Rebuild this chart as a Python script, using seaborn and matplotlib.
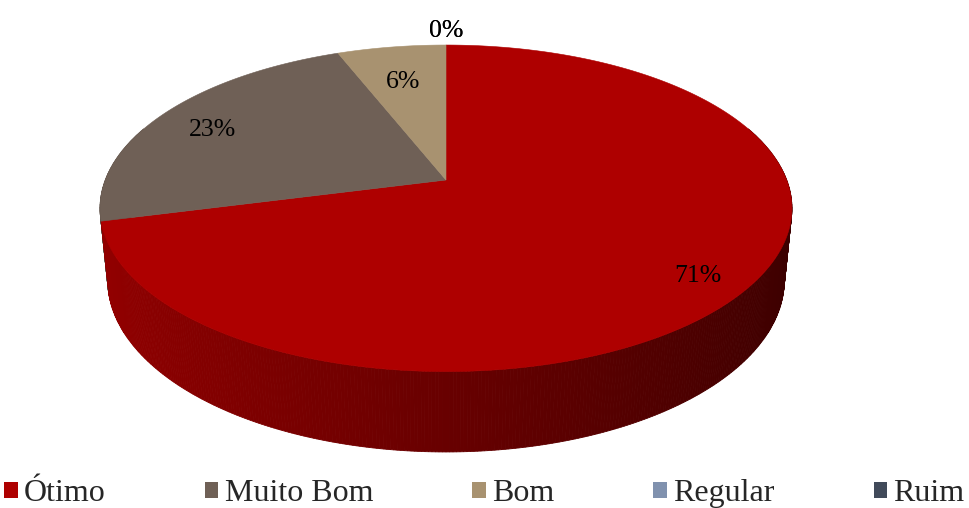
import numpy as np
import matplotlib

matplotlib.use("Agg", force=True)
import matplotlib.pyplot as plt
import seaborn as sns
from matplotlib.patches import Polygon, Rectangle

categories = ["Ótimo", "Muito Bom", "Bom", "Regular", "Ruim"]
values = [71, 23, 6, 0, 0]
labels = ["71%", "23%", "6%", "0%", "0%"]
colors = ["#AE0000", "#6F6056", "#A89270", "#8091AE", "#414A5A"]
label_r = [0.85, 0.82, 0.75, 1.17, 1.17]

# view of the 3D pie (elevation, perspective distance, thickness, pixel scale)
ELEV = np.deg2rad(27.7)
DIST = 5.11
THICK = 0.24
SCALE = 340.7
CX, CY = 446, 180
W, H = 969, 508


def project(x, y, z):
    ce, se = np.cos(ELEV), np.sin(ELEV)
    yp = y * se + z * ce
    d = y * ce - z * se
    k = DIST / (DIST + d)
    return x * k, yp * k


def rim(t, z=0.0, r=1.0):
    return project(r * np.cos(t), r * np.sin(t), z)


def slice_of(t_deg, bounds):
    frac = ((90 - t_deg) % 360) / 360
    for i, (a, b) in enumerate(bounds):
        if a <= frac < b:
            return i
    return 0


def shade(hexcol, f):
    rgb = np.array(matplotlib.colors.to_rgb(hexcol))
    return tuple(rgb * f)


sns.set_theme(style="white")
plt.rcParams["font.family"] = ["Liberation Serif", "DejaVu Serif"]

fig = plt.figure(figsize=(W / 100, H / 100), dpi=100)
ax = fig.add_axes([0, 0, 1, 1])
ax.set_xlim(-CX / SCALE, (W - CX) / SCALE)
ax.set_ylim((CY - H) / SCALE, CY / SCALE)
ax.axis("off")

total = sum(values)
fracs = np.array(values) / total
cum = np.concatenate([[0], np.cumsum(fracs)])
bounds = list(zip(cum[:-1], cum[1:]))

# side wall (front half), darker towards the right
ts = np.linspace(160, 380, 441)
for t0, t1 in zip(ts[:-1], ts[1:]):
    i = slice_of((t0 + t1) / 2, bounds)
    a0, a1 = np.deg2rad(t0), np.deg2rad(t1)
    p = [rim(a0), rim(a1), rim(a1, -THICK), rim(a0, -THICK)]
    xm = np.cos((a0 + a1) / 2)
    f = 0.85 - 0.505 * (xm + 1) / 2
    c = shade(colors[i], f)
    ax.add_patch(Polygon(p, closed=True, facecolor=c, edgecolor=c, lw=0.6, zorder=1))

# top face
for i, (a, b) in enumerate(bounds):
    if b - a <= 0:
        continue
    t = np.deg2rad(90 - 360 * np.linspace(a, b, max(int((b - a) * 400), 4)))
    xs, ys = rim(t)
    pts = np.column_stack([np.r_[0, xs], np.r_[0, ys]])
    ax.add_patch(Polygon(pts, closed=True, facecolor=colors[i], edgecolor=colors[i], lw=0.4, zorder=2))

# data labels
for i, (a, b) in enumerate(bounds):
    mid = np.deg2rad(90 - 360 * (a + b) / 2)
    lx, ly = rim(mid, 0, label_r[i])
    ax.text(lx, ly - 5 / SCALE, labels[i], ha="center", va="center", fontsize=18.5,
            color="black", zorder=3)

handles = [Rectangle((0, 0), 1, 1, facecolor=c, edgecolor="none") for c in colors]
fig.legend(handles, categories, loc="lower center", bbox_to_anchor=(0.5, -0.045), ncol=5,
           frameon=False, fontsize=23, handlelength=0.42, handleheight=0.42,
           handletextpad=0.2, columnspacing=3.1, borderpad=0.2)

fig.savefig("out.png", dpi=100)
